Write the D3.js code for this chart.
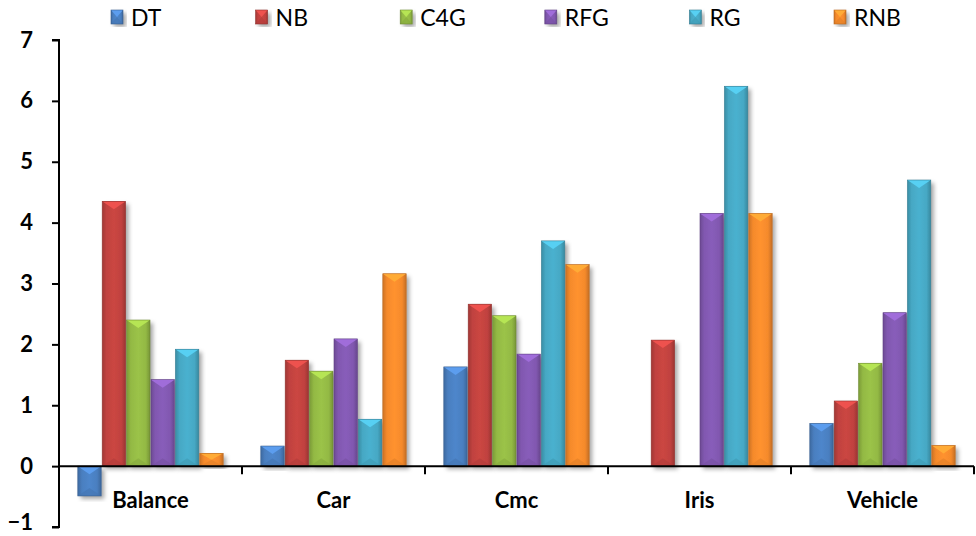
<!DOCTYPE html>
<html>
<head>
<meta charset="utf-8">
<script src="https://cdn.jsdelivr.net/npm/d3@7"></script>
<style>
  body { margin: 0; background: #fff; }
  svg { display: block; }
</style>
</head>
<body>
<svg id="chart" width="976" height="536"></svg>
<script>
let categories = ['Balance', 'Car', 'Cmc', 'Iris', 'Vehicle'];
let seriesNames = ['DT', 'NB', 'C4G', 'RFG', 'RG', 'RNB'];
let seriesColors = ['#4a7fc0', '#c0423f', '#93b944', '#8158b0', '#46a8c4', '#f58a2c'];

let DT = [-0.49, 0.33, 1.63, 0, 0.70];
let NB = [4.35, 1.74, 2.66, 2.07, 1.07];
let C4G = [2.40, 1.56, 2.47, 0, 1.69];
let RFG = [1.42, 2.09, 1.84, 4.15, 2.52];
let RG = [1.92, 0.77, 3.70, 6.24, 4.70];
let RNB = [0.21, 3.16, 3.31, 4.15, 0.34];

let yTicks = [-1, 0, 1, 2, 3, 4, 5, 6, 7];

let seriesValues = [DT, NB, C4G, RFG, RG, RNB];

let svg = d3.select('#chart');
let plotLeft = 59, plotRight = 974, plotTop = 40, plotBottom = 527;

let y = d3.scaleLinear().domain([-1, 7]).range([plotBottom, plotTop]);
let x0 = d3.scaleBand().domain(categories).range([plotLeft, plotRight]).padding(0);
let gap = x0.bandwidth() * 0.2;
let x1 = d3.scaleBand().domain(seriesNames).range([gap / 2, x0.bandwidth() - gap / 2]).padding(0);

let defs = svg.append('defs');
let shadow = defs.append('filter').attr('id', 'shadow')
    .attr('x', '-30%').attr('y', '-10%').attr('width', '160%').attr('height', '130%');
shadow.append('feDropShadow')
    .attr('dx', 3).attr('dy', 3).attr('stdDeviation', 2.2)
    .attr('flood-color', '#000').attr('flood-opacity', 0.35);

seriesColors.forEach((c, i) => {
    let g = defs.append('linearGradient').attr('id', 'grad' + i)
        .attr('x1', 0).attr('x2', 1).attr('y1', 0).attr('y2', 0);
    let base = d3.color(c);
    g.append('stop').attr('offset', '0%').attr('stop-color', base.darker(0.5));
    g.append('stop').attr('offset', '18%').attr('stop-color', base);
    g.append('stop').attr('offset', '50%').attr('stop-color', base.brighter(0.15));
    g.append('stop').attr('offset', '82%').attr('stop-color', base);
    g.append('stop').attr('offset', '100%').attr('stop-color', base.darker(0.6));
});

// bevelled box like the Office 2007 bars
function drawBar(parent, bx, by, bw, bh, i) {
    let g = parent.append('g');
    g.append('rect')
        .attr('x', bx).attr('y', by).attr('width', bw).attr('height', bh)
        .attr('fill', 'url(#grad' + i + ')')
        .attr('filter', 'url(#shadow)');
    let b = Math.min(8, bh / 2);
    let base = d3.color(seriesColors[i]);
    g.append('polygon')
        .attr('points', [[bx, by], [bx + bw, by], [bx + bw / 2, by + b]].join(' '))
        .attr('fill', base.brighter(0.6));
    g.append('polygon')
        .attr('points', [[bx, by + bh], [bx + bw, by + bh], [bx + bw / 2, by + bh - b]].join(' '))
        .attr('fill', base.darker(0.25)).attr('opacity', 0.6);
    g.append('rect')
        .attr('x', bx).attr('y', by).attr('width', bw).attr('height', bh)
        .attr('fill', 'none').attr('stroke', base.darker(0.8)).attr('stroke-width', 0.6);
}

let groups = svg.append('g').selectAll('g')
    .data(categories)
    .enter().append('g')
    .attr('transform', d => 'translate(' + x0(d) + ',0)');

groups.each(function(cat, ci) {
    let g = d3.select(this);
    seriesNames.forEach((s, si) => {
        let v = seriesValues[si][ci];
        if (v === 0) return;
        let yTop = y(Math.max(0, v));
        let h = Math.abs(y(v) - y(0));
        drawBar(g, x1(s) + 0.5, yTop, x1.bandwidth() - 1, h, si);
    });
});

// y axis
let yAxis = svg.append('g')
    .attr('transform', 'translate(' + plotLeft + ',0)')
    .call(d3.axisLeft(y).tickValues(yTicks).tickSize(7).tickPadding(19).tickFormat(d3.format('d')));
yAxis.select('.domain').attr('stroke', '#000').attr('stroke-width', 2)
    .attr('d', 'M-7,' + plotTop + 'H0V' + plotBottom + 'H-7');
yAxis.selectAll('.tick line').attr('stroke', '#000').attr('stroke-width', 2);
yAxis.selectAll('.tick text')
    .attr('fill', '#000')
    .attr('dy', d => d === -1 ? '0.1em' : '0.32em')
    .style('font-family', 'Lato, "Open Sans", sans-serif')
    .style('font-weight', 'bold')
    .style('font-size', '22px');

// x axis at zero
let xAxis = svg.append('g')
    .attr('transform', 'translate(0,' + y(0) + ')');
xAxis.append('line')
    .attr('x1', plotLeft).attr('x2', plotRight)
    .attr('stroke', '#000').attr('stroke-width', 2);
xAxis.selectAll('.xtick')
    .data(categories)
    .enter().append('line')
    .attr('class', 'xtick')
    .attr('x1', d => x0(d) + x0.bandwidth())
    .attr('x2', d => x0(d) + x0.bandwidth())
    .attr('y1', 0).attr('y2', 8)
    .attr('stroke', '#000').attr('stroke-width', 2);

svg.append('g').selectAll('text')
    .data(categories)
    .enter().append('text')
    .attr('x', d => x0(d) + x0.bandwidth() / 2)
    .attr('y', 508)
    .attr('text-anchor', 'middle')
    .style('font-family', 'Lato, "Open Sans", sans-serif')
    .style('font-weight', 'bold')
    .style('font-size', '22px')
    .text(d => d);

// legend
let legend = svg.append('g');
seriesNames.forEach((s, i) => {
    let lx = 111 + i * 144.6;
    drawBar(legend, lx, 10, 12, 14, i);
    legend.append('text')
        .attr('x', lx + 20)
        .attr('y', 26)
        .style('font-family', 'Lato, "Open Sans", sans-serif')
        .style('font-size', '23px')
        .text(s);
});
</script>
</body>
</html>
